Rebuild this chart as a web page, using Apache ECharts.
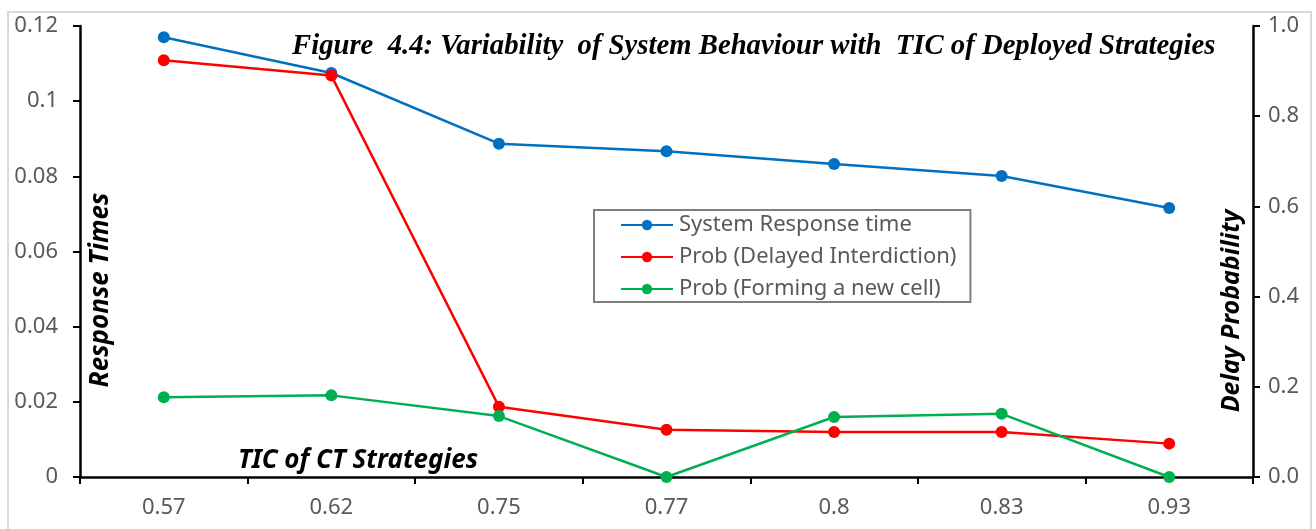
<!DOCTYPE html>
<html>
<head>
<meta charset="utf-8">
<script src="https://cdn.jsdelivr.net/npm/echarts@6/dist/echarts.min.js"></script>
<style>
  html, body { margin: 0; padding: 0; background: #ffffff; }
  #chart { width: 1316px; height: 529px; }
</style>
</head>
<body>
<div id="chart"></div>
<script>
// TIC values of the deployed CT strategies
const categories = ['0.57', '0.62', '0.75', '0.77', '0.8', '0.83', '0.93'];

// System response time (left axis)
const responseTime = [0.1170, 0.1075, 0.0887, 0.0867, 0.0833, 0.0801, 0.0716];
// Probability of delayed interdiction (right axis)
const probDelayed = [0.924, 0.890, 0.156, 0.105, 0.100, 0.100, 0.074];
// Probability of forming a new cell (right axis)
const probNewCell = [0.177, 0.181, 0.135, 0.000, 0.133, 0.140, 0.000];

const seriesNames = ['System Response time', 'Prob (Delayed Interdiction)', 'Prob (Forming a new cell)'];
const titleText = 'Figure  4.4: Variability  of System Behaviour with  TIC of Deployed Strategies';

const chart = echarts.init(document.getElementById('chart'), null, { renderer: 'canvas' });

const labelFont = { color: '#595959', fontSize: 22, fontFamily: 'Noto Sans' };
const nameFont = { fontFamily: 'Noto Sans', fontWeight: 'bold', fontStyle: 'italic', fontSize: 26, fill: '#000' };

function lineSeries(name, data, color, axisIndex) {
  return {
    name: name,
    type: 'line',
    yAxisIndex: axisIndex,
    data: data,
    symbol: 'circle',
    symbolSize: 12,
    lineStyle: { color: color, width: 2.5 },
    itemStyle: { color: color },
    emphasis: { disabled: true },
    z: 3
  };
}

chart.setOption({
  animation: false,
  backgroundColor: '#ffffff',
  grid: { left: 80, right: 63, top: 26, bottom: 52, containLabel: false },
  xAxis: {
    type: 'category',
    data: categories,
    boundaryGap: true,
    axisLine: { lineStyle: { color: '#000', width: 2.5 } },
    axisTick: { show: true, length: 7, lineStyle: { color: '#000', width: 2 } },
    axisLabel: Object.assign({ margin: 20 }, labelFont),
    splitLine: { show: false }
  },
  yAxis: [
    {
      type: 'value',
      min: 0, max: 0.12, interval: 0.02,
      position: 'left',
      axisLine: { show: true, lineStyle: { color: '#000', width: 2.5 } },
      axisTick: { show: true, length: 7, lineStyle: { color: '#000', width: 2 } },
      axisLabel: Object.assign({
        margin: 22,
        formatter: v => String(parseFloat(v.toFixed(2)))
      }, labelFont),
      splitLine: { show: false }
    },
    {
      type: 'value',
      min: 0, max: 1, interval: 0.2,
      position: 'right',
      axisLine: { show: true, lineStyle: { color: '#000', width: 2.5 } },
      axisTick: { show: true, length: 7, lineStyle: { color: '#000', width: 2 } },
      axisLabel: Object.assign({
        margin: 15,
        formatter: v => v.toFixed(1)
      }, labelFont),
      splitLine: { show: false }
    }
  ],
  legend: {
    orient: 'vertical',
    left: 594,
    top: 210,
    padding: [4, 14, 2, 26],
    itemGap: 10,
    itemWidth: 52,
    itemHeight: 13,
    borderColor: '#7f7f7f',
    borderWidth: 2,
    backgroundColor: '#ffffff',
    textStyle: { color: '#595959', fontSize: 22, fontFamily: 'Noto Sans', padding: [0, 0, 0, 1] },
    data: seriesNames
  },
  series: [
    lineSeries(seriesNames[0], responseTime, '#0070C0', 0),
    lineSeries(seriesNames[1], probDelayed, '#FF0000', 1),
    lineSeries(seriesNames[2], probNewCell, '#00B050', 1)
  ],
  graphic: [
    {
      type: 'rect',
      silent: true,
      shape: { x: 8, y: 12, width: 1303, height: 540 },
      style: { fill: 'none', stroke: '#d9d9d9', lineWidth: 2 },
      z: -1
    },
    {
      type: 'text',
      x: 292, y: 47,
      scaleX: 0.99,
      silent: true,
      style: {
        text: titleText,
        fontFamily: 'Liberation Serif',
        fontWeight: 'bold',
        fontStyle: 'italic',
        fontSize: 29,
        fill: '#000',
        verticalAlign: 'middle'
      }
    },
    {
      type: 'text',
      x: 101, y: 290, rotation: Math.PI / 2,
      silent: true,
      style: Object.assign({ text: 'Response Times', align: 'center', verticalAlign: 'middle' }, nameFont)
    },
    {
      type: 'text',
      x: 1232, y: 311, rotation: Math.PI / 2,
      silent: true,
      style: Object.assign({ text: 'Delay Probability', align: 'center', verticalAlign: 'middle' }, nameFont, { fontSize: 25 })
    },
    {
      type: 'text',
      x: 358, y: 461,
      silent: true,
      style: Object.assign({ text: 'TIC of CT Strategies', align: 'center', verticalAlign: 'middle' }, nameFont)
    }
  ]
});
</script>
</body>
</html>
